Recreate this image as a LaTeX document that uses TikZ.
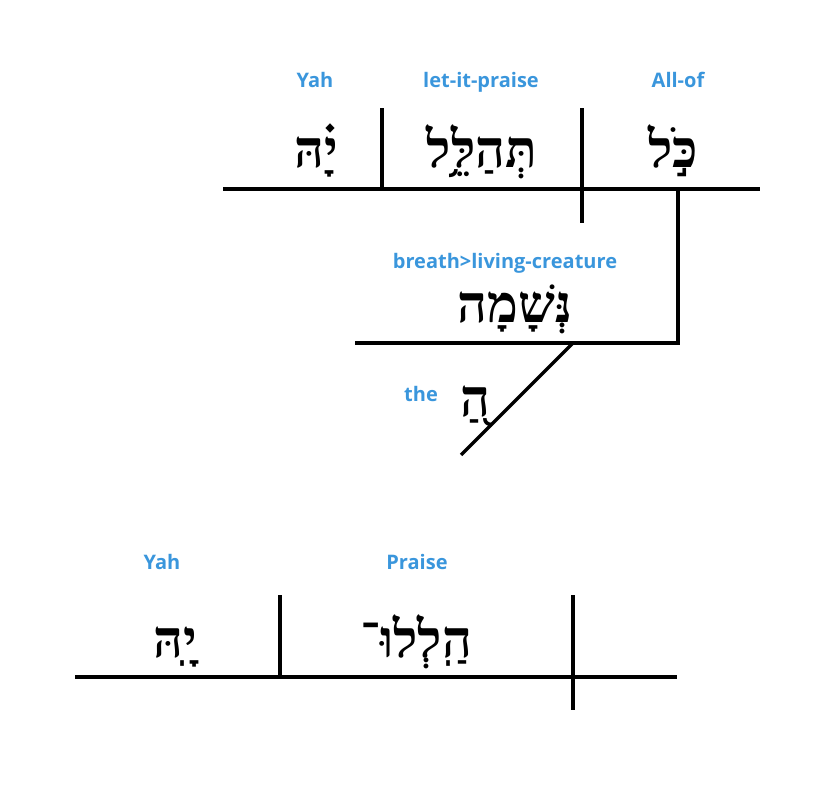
\documentclass[tikz,border=0pt]{standalone}
\usepackage{fontspec}
\newfontfamily\glossfont{Open Sans}
\newfontfamily\hebfont[Script=Hebrew]{Liberation Serif}
\TeXXeTstate=1
\definecolor{glossblue}{RGB}{58,150,220}
\tikzset{
  gloss/.style={text=glossblue, font=\glossfont\bfseries\fontsize{20}{24}\selectfont, anchor=base, inner sep=0pt},
  heb/.style={font=\hebfont\bfseries\fontsize{52}{58}\selectfont, anchor=base, inner sep=0pt},
  rule/.style={line width=3.2pt}
}
\begin{document}
\begin{tikzpicture}[x=1pt,y=-1pt]
	\useasboundingbox (0,0) rectangle (825,800);
	% upper clause
	\node[gloss] (yah1) at (315,88) {Yah};
	\node[gloss] (letpraise) at (481,88) {let-it-praise};
	\node[gloss] (allof) at (678,88) {All-of};
	\node[heb] (yahheb1) at (316,167) {\beginR יָ֗הּ\endR};
	\node[heb] (tehallel) at (482,167) {\beginR תְּהַלֵּ֥ל\endR};
	\node[heb] (kol) at (673,167) {\beginR כֹּ֣ל\endR};
	\node[gloss] (breath) at (505,268) {breath>living-creature};
	\node[heb] (neshamah) at (515,322) {\beginR נְּשָׁמָה\endR};
	\node[gloss] (the) at (421,401) {the};
	\node[heb] (ha) at (475,416) {\beginR הַ֭\endR};
	\coordinate (base1w) at (223,189);
	\coordinate (base1e) at (760,189);
	\coordinate (vo1top) at (382,108);
	\coordinate (vo1bot) at (382,189);
	\coordinate (sp1top) at (582,108);
	\coordinate (sp1bot) at (582,223);
	\coordinate (kolfoot) at (678,189);
	\coordinate (breathe) at (678,343);
	\coordinate (breathw) at (355,343);
	\coordinate (theup) at (573,343);
	\coordinate (thedown) at (461,455);
	 \draw[rule] (base1w) -- (base1e);
	 \draw[rule] (vo1top) -- (vo1bot);
	 \draw[rule] (sp1top) -- (sp1bot);
	 \draw[rule] (kolfoot) -- (breathe) -- (breathw);
	 \draw[rule] (theup) -- (thedown);
	% lower clause
	\node[gloss] (yah2) at (162,569) {Yah};
	\node[gloss] (praise) at (417,569) {Praise};
	\node[heb] (yahheb2) at (175,657) {\beginR יָֽהּ\endR};
	\node[heb] (hallelu) at (416,657) {\beginR הַֽלְלוּ־\endR};
	\coordinate (base2w) at (75,677);
	\coordinate (base2e) at (677,677);
	\coordinate (vo2top) at (280,595);
	\coordinate (vo2bot) at (280,677);
	\coordinate (sp2top) at (573,595);
	\coordinate (sp2bot) at (573,710);
	 \draw[rule] (base2w) -- (base2e);
	 \draw[rule] (vo2top) -- (vo2bot);
	 \draw[rule] (sp2top) -- (sp2bot);
\end{tikzpicture}
\end{document}
